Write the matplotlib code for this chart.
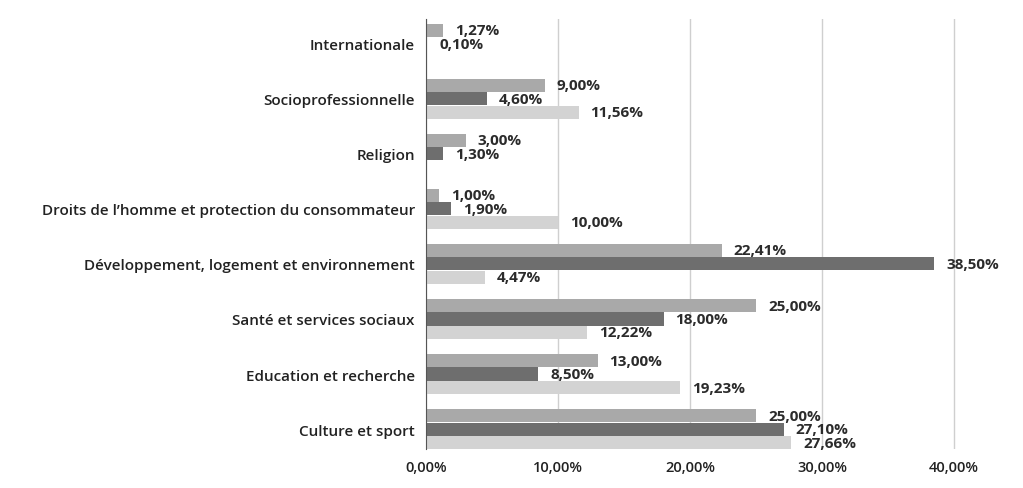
import numpy as np
import matplotlib.pyplot as plt

plt.rcParams['font.family'] = ['Open Sans', 'DejaVu Sans']

categories = [
    "Internationale",
    "Socioprofessionnelle",
    "Religion",
    "Droits de l\u2019homme et protection du consommateur",
    "Développement, logement et environnement",
    "Santé et services sociaux",
    "Education et recherche",
    "Culture et sport",
]
# three series per category (None = no bar)
serie_a = [1.27, 9.00, 3.00, 1.00, 22.41, 25.00, 13.00, 25.00]
serie_b = [0.10, 4.60, 1.30, 1.90, 38.50, 18.00, 8.50, 27.10]
serie_c = [None, 11.56, None, 10.00, 4.47, 12.22, 19.23, 27.66]
xticks = [0, 10, 20, 30, 40]

colors = ['#a9a9a9', '#6e6e6e', '#d3d3d3']
fig = plt.figure(figsize=(10.23, 4.89), dpi=100)
ax = fig.add_axes([0.4164, 0.080, 0.568, 0.879])

y = np.arange(len(categories))
h = 0.245
for k, (vals, col) in enumerate(zip([serie_a, serie_b, serie_c], colors)):
    off = (k - 1) * h
    for i, v in enumerate(vals):
        if v is None:
            continue
        ax.barh(y[i] + off, v, height=h * 0.97, color=col, zorder=2)
        lbl = f"{v:.2f}".replace('.', ',') + "%"
        ax.text(v + 0.9, y[i] + off, lbl, va='center', ha='left',
                fontsize=11, fontweight='bold', color='#2b2b2b')

ax.set_xlim(0, 44)
ax.set_ylim(len(categories) - 1 + 0.36, -0.45)
ax.set_yticks(y)
ax.set_yticklabels(categories, fontsize=11, fontweight='semibold', color='#222222')
ax.set_xticks(xticks)
ax.set_xticklabels([f"{t:.2f}".replace('.', ',') + "%" for t in xticks],
                   fontsize=10.5, fontweight='semibold', color='#222222')
ax.tick_params(axis='both', length=0, pad=8)
ax.grid(axis='x', color='#cfcfcf', linewidth=1, zorder=0)
for s in ['top', 'right', 'bottom']:
    ax.spines[s].set_visible(False)
ax.spines['left'].set_color('#555555')
ax.spines['left'].set_zorder(3)

fig.savefig('out.png', dpi=100, facecolor='white')
